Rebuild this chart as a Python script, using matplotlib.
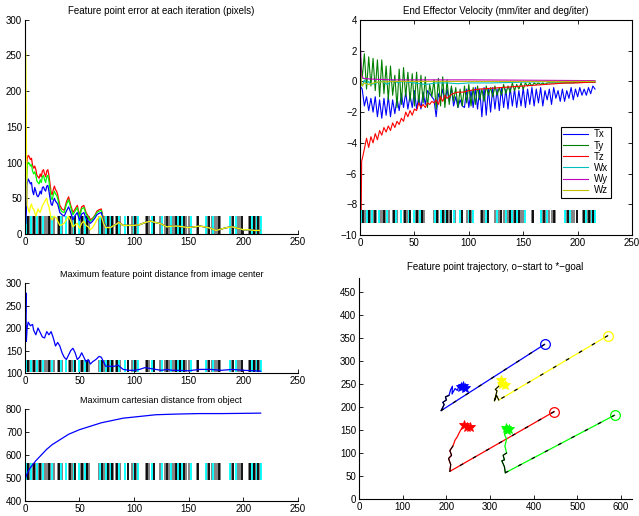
import numpy as np
import matplotlib
matplotlib.use('Agg')
import matplotlib.pyplot as plt

plt.rcParams['font.family'] = ['Liberation Sans', 'DejaVu Sans']
plt.rcParams['font.size'] = 7

# iterations where the event bars are drawn, by colour
bar_black = [3, 8, 14, 22, 31, 41, 46, 52, 57, 71, 76, 80, 84, 94, 101, 112, 118, 130,
             138, 142, 146, 159, 169, 178, 191, 199, 206, 210, 214]
bar_cyan = [1, 6, 11, 17, 25, 33, 38, 45, 50, 55, 69, 74, 79, 86, 92, 100, 104, 116,
            126, 134, 140, 144, 152, 166, 172, 188, 193, 208, 213, 216]
bar_gray = [2, 5, 7, 9, 12, 15, 18, 20, 23, 27, 30, 34, 40, 43, 51, 53, 56, 58, 59, 68,
            72, 75, 78, 81, 83, 87, 98, 103, 111, 114, 124, 128, 132, 135, 137, 139,
            141, 143, 148, 150, 158, 167, 171, 174, 176, 179, 189, 195, 197, 205, 209,
            211, 212, 215]

# feature point error (pixels)
err_x = [0.8, 1.5, 2, 3, 4, 5, 6, 7, 8, 9, 10, 11, 12, 13, 14, 15, 16, 17, 18, 19, 20,
         21, 22, 23, 24, 25, 26, 27, 28, 29, 30, 32, 34, 36, 38, 40, 42, 44, 46, 48,
         50, 52, 54, 56, 58, 60, 62, 64, 66, 68, 70, 72, 74, 78, 82, 86, 90, 95, 100,
         105, 110, 115, 120, 125, 130, 135, 140, 145, 150, 155, 160, 165, 170, 175,
         180, 185, 190, 195, 200, 205, 210, 215]
err_red = [70, 80, 105, 110, 108, 104, 106, 96, 92, 95, 90, 82, 80, 78, 84, 80, 88,
           90, 84, 80, 88, 90, 82, 70, 58, 55, 62, 67, 62, 60, 55, 40, 35, 33, 45, 52,
           40, 30, 35, 40, 26, 38, 40, 30, 25, 20, 22, 26, 32, 34, 35, 20, 11, 9, 12,
           17, 12, 12, 12, 13, 16, 18, 16, 14, 10, 11, 11, 10, 9, 10, 11, 10, 8, 5, 7,
           9, 10, 8, 6, 6, 5, 5]
err_green = [60, 70, 95, 100, 99, 95, 97, 88, 84, 87, 82, 74, 72, 70, 76, 72, 80, 82,
             76, 72, 80, 82, 74, 62, 50, 48, 55, 60, 56, 54, 50, 36, 31, 30, 41, 48, 37,
             27, 32, 37, 24, 35, 37, 28, 23, 18, 21, 25, 30, 32, 33, 19, 10, 9, 12, 16,
             12, 12, 12, 13, 16, 18, 16, 14, 10, 11, 11, 10, 9, 10, 11, 10, 8, 5, 7, 9,
             10, 8, 6, 6, 5, 5]
err_blue = [15, 40, 70, 77, 74, 70, 72, 60, 55, 65, 60, 54, 52, 55, 60, 56, 65, 66,
            62, 60, 67, 68, 60, 50, 42, 40, 46, 50, 46, 44, 42, 30, 27, 25, 32, 38, 30,
            20, 26, 30, 19, 28, 30, 22, 18, 15, 18, 22, 27, 29, 30, 17, 10, 9, 12, 16,
            12, 12, 12, 13, 16, 18, 16, 14, 10, 11, 11, 10, 9, 10, 11, 10, 8, 5, 7, 9,
            10, 8, 6, 6, 5, 5]
err_yellow = [255, 100, 40, 35, 30, 38, 42, 36, 35, 30, 25, 30, 35, 32, 30, 35, 40,
              42, 45, 48, 50, 42, 38, 30, 22, 20, 24, 25, 23, 22, 18, 12, 13, 15, 20,
              25, 18, 10, 13, 15, 8, 15, 18, 12, 10, 6, 9, 14, 20, 24, 25, 15, 9, 9, 12,
              16, 12, 12, 12, 13, 16, 18, 16, 14, 10, 11, 11, 10, 9, 10, 11, 10, 8, 5, 7,
              9, 10, 8, 6, 6, 5, 5]

# end effector velocity
vel_x = list(range(0, 217, 2))
vel_tx = [-0.3, -0.5, -1.6, -1.0, -1.9, -1.1, -2.0, -1.0, -2.3, -1.2, -2.4, -1.1, -2.2,
          -1.0, -2.3, -1.2, -2.1, -1.1, -1.9, -0.8, -1.7, -0.7, -1.8, -0.9, -1.7, -0.6,
          -1.8, -1.0, -1.8, -0.7, -1.5, -0.6, -0.8, -1.0, -1.2, -2.3, -0.8, -1.2, -0.5,
          -1.4, -0.5, -1.3, -0.4, -1.6, -1.0, -1.7, -1.2, -1.6, -1.7, -0.5, -1.7, -0.6,
          -1.7, -0.4, -1.8, -0.5, -2.3, -0.4, -2.2, -0.5, -2.0, -0.4, -1.8, -0.5, -1.9,
          -0.4, -1.7, -0.5, -1.8, -0.4, -1.6, -0.5, -1.7, -0.6, -1.6, -0.4, -1.7, -0.5,
          -1.5, -0.4, -1.6, -0.5, -1.4, -0.4, -1.6, -0.6, -1.2, -0.5, -1.5, -0.4, -1.1,
          -0.6, -1.3, -0.5, -1.3, -0.6, -1.1, -0.4, -1.2, -0.5, -1.0, -0.4, -0.9, -0.5,
          -0.9, -0.4, -0.8, -0.3, -0.5]
vel_ty = [2.0, 0.2, 1.8, -0.5, 1.6, -0.3, 1.5, -0.6, 1.4, -1.0, 1.4, -0.8, 1.0, -1.2,
          1.0, -0.9, 0.4, -1.7, 0.8, -1.5, 0.9, -1.0, 0.6, -1.3, 0.5, -1.6, 0.6, -1.5,
          0.4, -1.4, 0.3, -1.7, -0.2, -1.0, 0.1, -1.8, 0.2, -1.6, 0.3, -1.7, 0.1, -1.5,
          -0.3, -1.3, -0.4, -1.7, -0.5, -1.6, -0.3, -1.4, -0.2, -1.6, -0.4, -1.5, -0.3,
          -1.2, -0.5, -1.3, -0.3, -0.9, -0.4, -1.0, -0.3, -0.9, -0.4, -0.9, -0.2, -0.8,
          -0.3, -0.7, -0.1, -0.6, -0.2, -0.5, -0.1, -0.5, -0.1, -0.3, -0.1, -0.3, -0.1,
          -0.2, -0.1, -0.2, -0.1, -0.2, -0.1, -0.1, -0.1, -0.1, -0.1, -0.1, -0.1, -0.1,
          -0.1, -0.1, -0.1, -0.1, -0.1, -0.05, -0.05, -0.05, -0.05, -0.05, -0.05, -0.05,
          -0.05, -0.05, -0.05]
tz_x = [1, 1.5, 2.5] + list(range(4, 81, 2)) + [85, 90, 95, 100, 110, 120, 130, 140,
                                                150, 160, 170, 180, 190, 200, 210, 216]
vel_tz = [-9.2, -5.2, -4.9, -4.4, -3.7, -4.3, -3.6, -4.0, -3.4, -3.8, -3.2, -3.5, -3.0,
          -3.3, -2.9, -3.2, -2.7, -3.0, -2.6, -2.8, -2.4, -2.6, -2.0, -2.3, -1.9, -2.2,
          -1.8, -1.9, -1.4, -1.7, -1.5, -1.7, -1.4, -1.5, -1.3, -1.4, -1.2, -1.5, -1.0,
          -1.3, -0.9, -1.1, -0.8, -0.7, -0.7, -0.6, -0.5, -0.45, -0.4, -0.35, -0.3,
          -0.25, -0.2, -0.15, -0.1, -0.1, -0.05, -0.05]
wx_x = [0.5, 1, 2, 4, 6, 8, 10, 15, 20, 25, 30, 35, 40, 50, 60, 70, 80, 90, 100, 120,
        150, 180, 216]
vel_wx = [0.3, 0.0, -0.3, 0.1, -0.2, 0.0, -0.2, -0.1, 0.0, -0.2, 0.1, -0.1, 0.0, -0.1,
          -0.2, -0.1, -0.1, -0.15, -0.1, -0.1, -0.05, 0.0, 0.0]
wy_x = [0.6, 1.2, 3, 10, 30, 60, 100, 150, 216]
vel_wy = [2.0, 0.4, 0.2, 0.15, 0.1, 0.1, 0.1, 0.08, 0.05]
wz_x = [0.6, 1.2, 2, 4, 8, 15, 30, 60, 100, 150, 216]
vel_wz = [0.6, -0.1, -0.3, -0.1, -0.2, -0.05, 0.0, 0.0, 0.0, 0.0, 0.0]

# maximum feature point distance from image center
mid_x = [0.5, 0.9, 1.3, 2, 3, 5, 7, 8, 10, 12, 14, 16, 18, 20, 22, 24, 26, 28, 30, 32,
         34, 36, 38, 40, 42, 44, 46, 48, 50, 52, 54, 56, 58, 60, 62, 65, 68, 70, 72, 74,
         78, 82, 85, 88, 90, 95, 100, 105, 110, 115, 120, 125, 130, 135, 140, 150,
         160, 170, 180, 190, 200, 210, 216]
mid_y = [230, 278, 170, 200, 213, 205, 208, 195, 185, 200, 190, 180, 178, 192, 185,
         192, 178, 160, 168, 160, 145, 135, 130, 140, 150, 155, 145, 130, 135, 145, 135,
         125, 130, 120, 125, 130, 137, 135, 125, 115, 115, 115, 118, 112, 108, 106, 106,
         108, 112, 110, 108, 106, 108, 106, 106, 105, 108, 108, 106, 108, 106, 105, 104]

# maximum cartesian distance from object
cart_x = [0, 2, 5, 10, 15, 20, 25, 30, 40, 50, 60, 70, 80, 90, 100, 110, 120, 140,
          160, 180, 200, 216]
cart_y = [490, 520, 545, 575, 600, 625, 645, 660, 690, 710, 725, 740, 750, 760, 765,
          770, 775, 778, 780, 780, 781, 782]

# feature point trajectories (start first, goal last)
blue_tx = [425, 188, 195, 192, 200, 198, 206, 210, 214, 213, 220, 225, 230, 234, 238, 243]
blue_ty = [336, 192, 205, 210, 215, 222, 225, 238, 245, 228, 240, 236, 248, 244, 246, 241]
yel_tx = [570, 320, 315, 310, 316, 312, 320, 322, 326, 328, 335]
yel_ty = [355, 215, 225, 213, 235, 238, 245, 255, 258, 250, 248]
red_tx = [447, 208, 210, 205, 212, 208, 215, 220, 225, 230, 236, 240, 248, 255]
red_ty = [190, 60, 75, 88, 95, 105, 115, 128, 135, 145, 155, 160, 157, 157]
grn_tx = [585, 335, 333, 327, 333, 330, 338, 334, 338, 333, 337, 340, 343]
grn_ty = [182, 57, 70, 83, 85, 95, 100, 115, 130, 140, 155, 150, 153]

fig = plt.figure(figsize=(6.39, 5.16), dpi=100)

def style(ax, box=False):
    ax.tick_params(direction='in', length=3, width=0.6, pad=2, labelsize=7)
    for s in ax.spines.values():
        s.set_linewidth(0.8)
    if box:
        ax.tick_params(top=True, right=True)
    else:
        ax.spines['top'].set_visible(False)
        ax.spines['right'].set_visible(False)

def bars(ax, lo, hi):
    ax.vlines(bar_gray, lo, hi, colors='#7a7a7a', lw=1.3)
    ax.vlines(bar_cyan, lo, hi, colors='#00ffff', lw=1.3)
    ax.vlines(bar_black, lo, hi, colors='k', lw=1.3)

# top left
ax1 = fig.add_axes([0.039, 0.5465, 0.427, 0.4157])
bars(ax1, 0, 25)
ax1.plot(err_x, err_red, color='r', lw=0.9)
ax1.plot(err_x, err_green, color='#00ff00', lw=0.9)
ax1.plot(err_x, err_blue, color='b', lw=0.9)
ax1.plot(err_x, err_yellow, color='#ffff00', lw=0.9)
ax1.set_xlim(0, 250)
ax1.set_ylim(0, 300)
ax1.set_title('Feature point error at each iteration (pixels)', fontsize=7, pad=4)
style(ax1)

# top right
ax2 = fig.add_axes([0.5634, 0.5446, 0.4257, 0.4167])
ax2.plot(vel_x, vel_tx, color='b', lw=0.8, label='Tx')
ax2.plot(vel_x, vel_ty, color=(0, 0.5, 0), lw=0.8, label='Ty')
ax2.plot(tz_x, vel_tz, color='r', lw=0.8, label='Tz')
ax2.plot(wx_x, vel_wx, color=(0, 0.75, 0.75), lw=0.8, label='Wx')
ax2.plot(wy_x, vel_wy, color=(0.75, 0, 0.75), lw=0.8, label='Wy')
ax2.plot(wz_x, vel_wz, color=(0.75, 0.75, 0), lw=0.8, label='Wz')
bars(ax2, -9.2, -8.4)
ax2.set_xlim(0, 250)
ax2.set_ylim(-10, 4)
ax2.set_yticks(range(-10, 5, 2))
ax2.set_title('End Effector Velocity (mm/iter and deg/iter)', fontsize=7, pad=4)
leg = ax2.legend(loc='upper left', bbox_to_anchor=(0.72, 0.525), fontsize=7,
                 fancybox=False, framealpha=1, edgecolor='k', handlelength=2.6,
                 borderpad=0.25, labelspacing=0.12, handletextpad=0.6)
leg.get_frame().set_linewidth(0.8)
style(ax2, box=True)

# middle left
ax3 = fig.add_axes([0.039, 0.2771, 0.427, 0.1744])
bars(ax3, 103, 130)
ax3.plot(mid_x, mid_y, color='b', lw=0.9)
ax3.set_xlim(0, 250)
ax3.set_ylim(100, 300)
ax3.set_yticks([100, 150, 200, 250, 300])
ax3.set_title('Maximum feature point distance from image center', fontsize=6.5, pad=4)
style(ax3)

# bottom left
ax4 = fig.add_axes([0.039, 0.0291, 0.427, 0.1783])
bars(ax4, 490, 565)
ax4.plot(cart_x, cart_y, color='b', lw=0.9)
ax4.set_xlim(0, 250)
ax4.set_ylim(400, 800)
ax4.set_yticks([400, 500, 600, 700, 800])
ax4.set_title('Maximum cartesian distance from object', fontsize=6.5, pad=4)
style(ax4)

# bottom right
ax5 = fig.add_axes([0.5618, 0.0329, 0.4272, 0.4283])
for tx, ty, c in [(blue_tx, blue_ty, 'b'), (yel_tx, yel_ty, '#ffff00'),
                  (red_tx, red_ty, 'r'), (grn_tx, grn_ty, '#00ff00')]:
    ax5.plot(tx, ty, color=c, lw=0.9)
    ax5.plot(tx[:2], ty[:2], color='k', lw=0.9, ls=(0, (3, 9)))
    ax5.plot(tx[1:7], ty[1:7], color='k', lw=0.8)
    ax5.plot(tx[0], ty[0], 'o', mfc='none', mec=c, ms=7, mew=0.9)
    ax5.plot(tx[-3:], ty[-3:], '*', color=c, ms=7.5, mew=0.6)
ax5.set_xlim(0, 625)
ax5.set_ylim(0, 480)
ax5.set_xticks([0, 100, 200, 300, 400, 500, 600])
ax5.set_yticks(range(0, 451, 50))
ax5.set_title('Feature point trajectory, o\u2212start to *\u2212goal', fontsize=7, pad=6)
style(ax5)

fig.savefig('out.png', dpi=100)
